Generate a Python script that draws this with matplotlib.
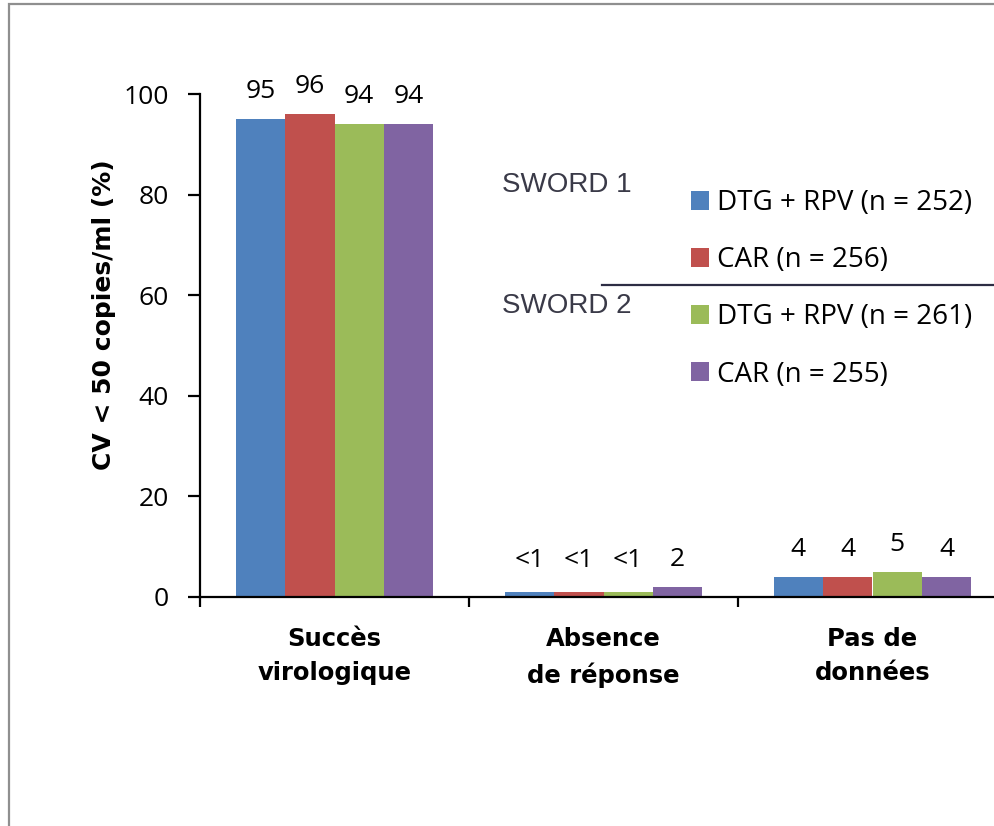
import matplotlib
matplotlib.use("Agg")
import matplotlib.pyplot as plt
from matplotlib.patches import Rectangle
from matplotlib.lines import Line2D
import numpy as np

# Data
categories = ["Succès\nvirologique", "Absence\nde réponse", "Pas de\ndonnées"]
series_names = ["DTG + RPV (n = 252)", "CAR (n = 256)", "DTG + RPV (n = 261)", "CAR (n = 255)"]
sword1_dtg = [95, 1, 4]
sword1_car = [96, 1, 4]
sword2_dtg = [94, 1, 5]
sword2_car = [94, 2, 4]
value_labels = [
    ["95", "<1", "4"],
    ["96", "<1", "4"],
    ["94", "<1", "5"],
    ["94", "2", "4"],
]
colors = ["#4F81BD", "#C0504D", "#9BBB59", "#8064A2"]
yticks = [0, 20, 40, 60, 80, 100]

W, H = 994, 826
fig = plt.figure(figsize=(W / 100, H / 100), dpi=100)
fig.patch.set_facecolor("white")

def fx(px):
    return px / W

def fy(py):
    return 1 - py / H

# Outer frame
fig.add_artist(Rectangle((fx(9), -0.1), 1.2, fy(4) + 0.1, transform=fig.transFigure,
                         fill=False, edgecolor="#8f8f8f", linewidth=1.6))

ax = fig.add_axes([fx(200), fy(597), fx(794), (597 - 94) / H])
ax.set_facecolor("none")

series = [sword1_dtg, sword1_car, sword2_dtg, sword2_car]
x = np.arange(len(categories))
bw = 0.184
offsets = [-1.5, -0.5, 0.5, 1.5]
bars = []
for vals, off, col, name, labs in zip(series, offsets, colors, series_names, value_labels):
    b = ax.bar(x + off * bw, vals, width=bw, color=col, label=name, zorder=2)
    bars.append(b)
    for xi, v, lab in zip(x + off * bw, vals, labs):
        dy = 18 if lab.startswith("<") else 15
        ax.annotate(lab, (xi, v), xytext=(0, dy), textcoords="offset points",
                    ha="center", va="baseline", fontsize=19, family="Open Sans")

ax.set_xlim(-0.5, -0.5 + 794 / 269)
ax.set_ylim(0, 100)

for s in ["top", "right"]:
    ax.spines[s].set_visible(False)
for s in ["left", "bottom"]:
    ax.spines[s].set_linewidth(1.6)
    ax.spines[s].set_color("black")

ax.set_yticks(yticks)
ax.set_yticklabels([str(t) for t in yticks], fontsize=19, family="Open Sans")
ax.tick_params(axis="y", direction="out", length=8.5, width=1.6, pad=14)

ax.set_xticks([-0.5, 0.5, 1.5])
ax.set_xticklabels([])
ax.tick_params(axis="x", which="major", direction="out", length=7, width=1.6)
ax.set_xticks(x, minor=True)
ax.set_xticklabels(categories, minor=True, fontsize=17.5, family="DejaVu Sans",
                   fontweight="bold", linespacing=1.55)
ax.tick_params(axis="x", which="minor", length=0, pad=21.5)

ax.set_ylabel("CV < 50 copies/ml (%)", fontsize=18, fontweight="bold",
              family="DejaVu Sans")
ax.yaxis.set_label_coords(-0.106, 0.561)

# Study headers and separator
fig.text(fx(502), fy(192), "SWORD 1", fontsize=20, family="Liberation Sans",
         color="#3a3a48", va="baseline", ha="left")
fig.text(fx(502), fy(313), "SWORD 2", fontsize=20, family="Liberation Sans",
         color="#3a3a48", va="baseline", ha="left")
fig.add_artist(Line2D([fx(602), 1.0], [fy(285), fy(285)], transform=fig.transFigure,
                      color="#2d2d44", linewidth=1.6))

leg = ax.legend(handles=bars, labels=series_names, loc="upper left",
                bbox_to_anchor=(fx(691), fy(189)), bbox_transform=fig.transFigure,
                frameon=False, prop={"family": "Open Sans", "size": 20},
                handlelength=0.65, handleheight=0.65, handletextpad=0.28,
                labelspacing=1.05, borderpad=0, borderaxespad=0)

fig.savefig("out.png", dpi=100)
